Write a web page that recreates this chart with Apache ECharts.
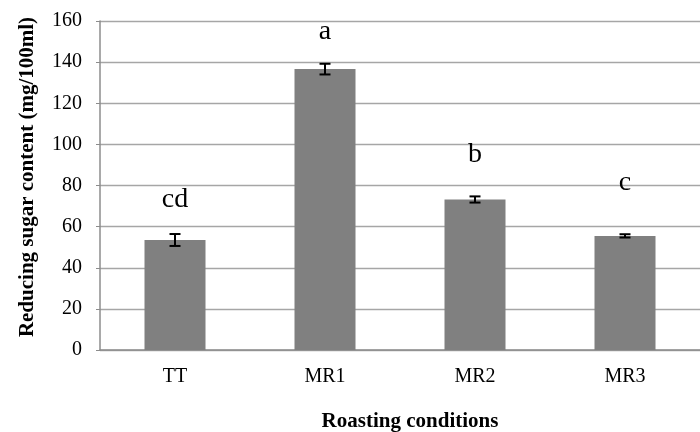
<!DOCTYPE html>
<html><head><meta charset="utf-8">
<script src="https://cdn.jsdelivr.net/npm/echarts@6/dist/echarts.min.js"></script>
<style>html,body{margin:0;padding:0;background:#fff}#c{width:700px;height:432px}</style>
</head><body><div id="c"></div>
<script>
var categories = ['TT', 'MR1', 'MR2', 'MR3'];
var values = [53.5, 136.6, 73.2, 55.5];
var errors = [2.9, 2.6, 1.5, 0.8];
var letters = ['cd', 'a', 'b', 'c'];
var letterPos = [73.0, 154.8, 94.8, 81.2];
var yTicks = [0, 20, 40, 60, 80, 100, 120, 140, 160];

var FONT = '"Liberation Serif","Times New Roman",serif';
var chart = echarts.init(document.getElementById('c'), null, {renderer: 'canvas'});
chart.setOption({
  animation: false,
  grid: {left: 100, top: 21, width: 607, bottom: 82, containLabel: false},
  xAxis: {
    type: 'category', data: categories,
    axisLine: {lineStyle: {color: '#8c8c8c', width: 1.5}},
    axisTick: {show: false},
    axisLabel: {fontFamily: FONT, fontSize: 20, color: '#000', margin: 17}
  },
  yAxis: {
    type: 'value', min: 0, max: 160, interval: 20,
    axisLine: {show: true, lineStyle: {color: '#8c8c8c', width: 1.5}},
    axisTick: {show: true, length: 4, lineStyle: {color: '#8c8c8c'}},
    splitLine: {lineStyle: {color: '#a6a6a6', width: 1.3}},
    axisLabel: {fontFamily: FONT, fontSize: 20, color: '#000', margin: 18,
      formatter: function (v) { return yTicks.indexOf(v) >= 0 ? String(v) : ''; }}
  },
  series: [
    {type: 'bar', data: values, barWidth: 61, itemStyle: {color: '#808080'}, z: 2},
    {type: 'custom', z: 5,
      data: values.map(function (v, i) { return [i, v, errors[i]]; }),
      renderItem: function (params, api) {
        var i = api.value(0), v = api.value(1), e = api.value(2);
        var top = api.coord([i, v + e]);
        var bot = api.coord([i, v - e]);
        var hw = 5.5;
        var st = {stroke: '#000', lineWidth: 2};
        return {type: 'group', children: [
          {type: 'line', shape: {x1: top[0], y1: top[1], x2: bot[0], y2: bot[1]}, style: st},
          {type: 'line', shape: {x1: top[0] - hw, y1: top[1], x2: top[0] + hw, y2: top[1]}, style: st},
          {type: 'line', shape: {x1: bot[0] - hw, y1: bot[1], x2: bot[0] + hw, y2: bot[1]}, style: st}
        ]};
      }
    },
    {type: 'custom', z: 6,
      data: letterPos.map(function (v, i) { return [i, v]; }),
      renderItem: function (params, api) {
        var i = api.value(0), v = api.value(1);
        var p = api.coord([i, v]);
        return {type: 'text', x: p[0], y: p[1], style: {
          text: letters[params.dataIndex], fontFamily: FONT, fontSize: 28, fill: '#000',
          align: 'center', verticalAlign: 'middle'}};
      }
    }
  ],
  graphic: [
    {type: 'text', x: 410, y: 422, style: {text: 'Roasting conditions', fontFamily: FONT,
      fontSize: 21, fontWeight: 'bold', fill: '#000', align: 'center', verticalAlign: 'middle'}},
    {type: 'text', x: 28, y: 177, rotation: Math.PI / 2, style: {text: 'Reducing sugar content (mg/100ml)',
      fontFamily: FONT, fontSize: 21, fontWeight: 'bold', fill: '#000', align: 'center', verticalAlign: 'middle'}}
  ]
});
</script></body></html>
